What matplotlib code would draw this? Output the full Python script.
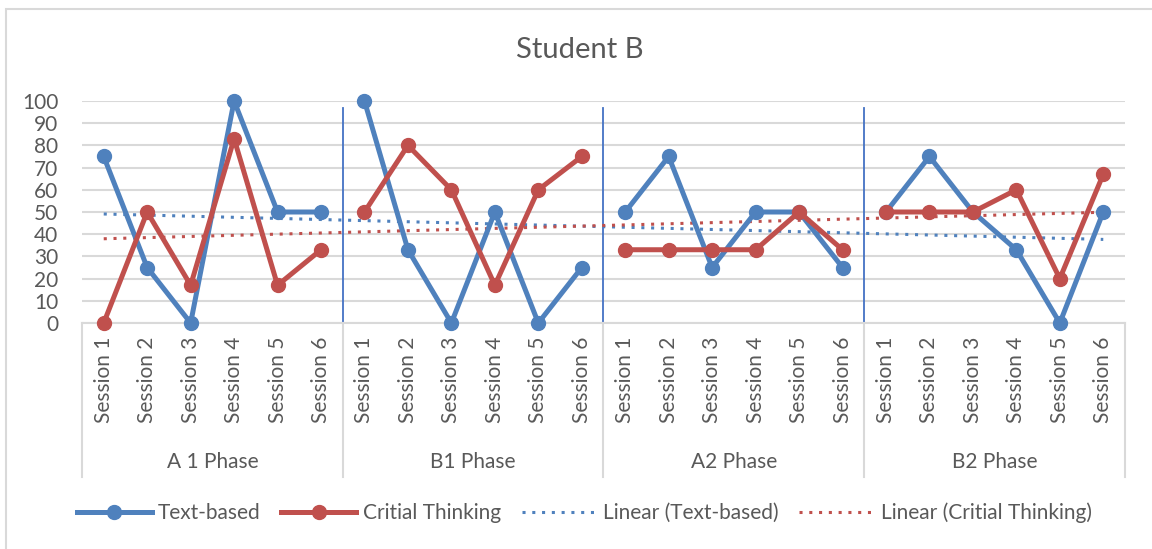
import numpy as np
import matplotlib.pyplot as plt
from matplotlib.lines import Line2D
from matplotlib.patches import Rectangle

plt.rcParams['font.family'] = ['Lato', 'DejaVu Sans']

phases = ['A 1 Phase', 'B1 Phase', 'A2 Phase', 'B2 Phase']
sessions = ['Session 1', 'Session 2', 'Session 3', 'Session 4', 'Session 5', 'Session 6']
text_based = [75, 25, 0, 100, 50, 50,
              100, 33, 0, 50, 0, 25,
              50, 75, 25, 50, 50, 25,
              50, 75, 50, 33, 0, 50]
critical = [0, 50, 17, 83, 17, 33,
            50, 80, 60, 17, 60, 75,
            33, 33, 33, 33, 50, 33,
            50, 50, 50, 60, 20, 67]

blue = '#4F81BD'
red = '#C0504D'
grey_txt = '#595959'
grid_c = '#D9D9D9'

fig = plt.figure(figsize=(11.52, 5.49), dpi=100)
ax = fig.add_axes([82/1152, 1-323/549, (1125-82)/1152, 222/549])

n = len(text_based)
x = np.arange(n)
per = len(sessions)

# lines broken at each phase
for i in range(len(phases)):
    s = slice(i*per, (i+1)*per)
    ax.plot(x[s], text_based[s], color=blue, lw=3.6, marker='o', ms=10, zorder=4, clip_on=False)
    ax.plot(x[s], critical[s], color=red, lw=3.6, marker='o', ms=10, zorder=5, clip_on=False)

# linear trendlines
for vals, c in [(text_based, blue), (critical, red)]:
    k, b = np.polyfit(x, vals, 1)
    ax.plot(x, k*x + b, color=c, lw=2.2, ls=(0, (1, 2.2)), zorder=3)

# phase separators
for i in range(1, len(phases)):
    ax.plot([i*per-0.5]*2, [0, 97], color='#4472C4', lw=1.3, zorder=2)

ax.set_xlim(-0.5, n-0.5)
ax.set_ylim(0, 100)
ax.set_yticks(range(0, 101, 10))
ax.yaxis.grid(True, color=grid_c, lw=1.5)
ax.set_axisbelow(True)
for sp in ['top', 'right', 'left']:
    ax.spines[sp].set_visible(False)
ax.spines['bottom'].set_color(grid_c)
ax.spines['bottom'].set_linewidth(1.5)
ax.tick_params(axis='y', length=0, pad=17, labelsize=15, labelcolor=grey_txt)
ax.set_xticks(x)
ax.set_xticklabels(sessions * len(phases), rotation=90, va='top')
ax.tick_params(axis='x', length=0, pad=10, labelsize=15, labelcolor=grey_txt)

# category axis group lines and labels
yb = -(477-323)/222
for i in range(len(phases)+1):
    ax.plot([i*per-0.5]*2, [0, yb], color=grid_c, lw=1.5,
            transform=ax.get_xaxis_transform(), clip_on=False)
for i, p in enumerate(phases):
    ax.text(i*per + 2.5, -(462-323)/222, p, ha='center', va='center',
            fontsize=15, color=grey_txt, transform=ax.get_xaxis_transform())

fig.text(580/1152, 1-50/549, 'Student B', ha='center', va='center', fontsize=21, color=grey_txt)

handles = [
    Line2D([], [], color=blue, lw=3.6, marker='o', ms=10),
    Line2D([], [], color=red, lw=3.6, marker='o', ms=10),
    Line2D([], [], color=blue, lw=2.2, ls=(0, (1, 2.2))),
    Line2D([], [], color=red, lw=2.2, ls=(0, (1, 2.2))),
]
labels = ['Text-based', 'Critial Thinking', 'Linear (Text-based)', 'Linear (Critial Thinking)']
leg = fig.legend(handles, labels, loc='center', bbox_to_anchor=(584/1152, 1-513/549), ncol=4,
                 frameon=False, fontsize=15, handlelength=3.6, handletextpad=0.3, columnspacing=1.0)
for t in leg.get_texts():
    t.set_color(grey_txt)

# outer chart border
fig.patches.append(Rectangle((6/1152, -0.01), 1.1, 1-9/549+0.01, transform=fig.transFigure,
                             fill=False, edgecolor=grid_c, lw=1.5))

fig.savefig('out.png', dpi=100)
